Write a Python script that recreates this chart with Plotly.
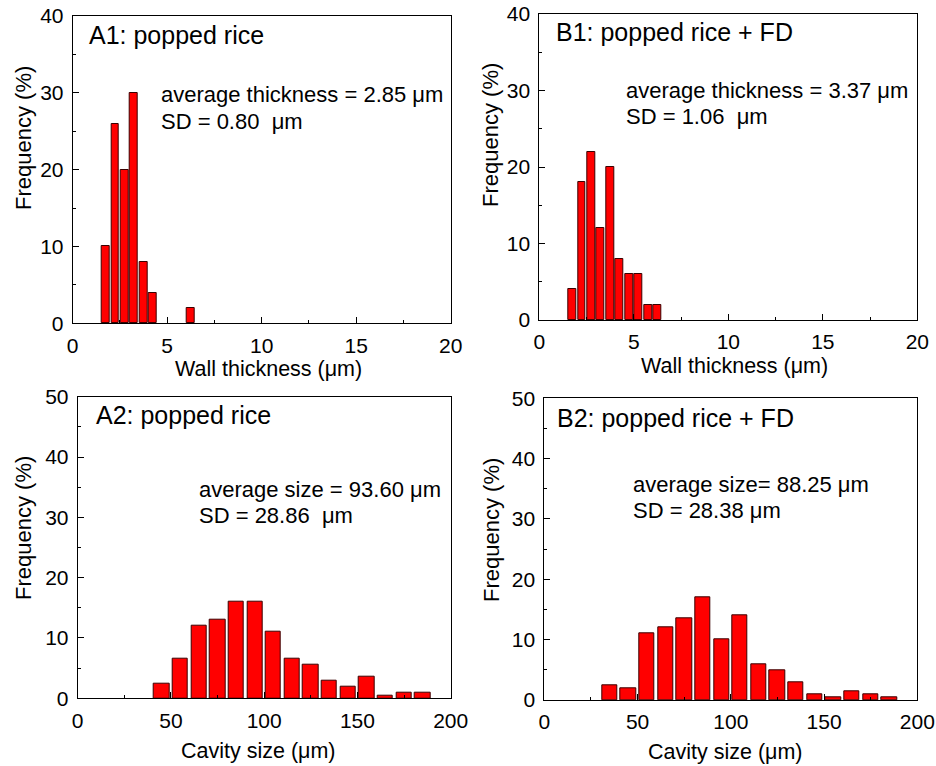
import plotly.graph_objects as go

# ---------------- data ----------------
A1_bins = [1.75, 2.25, 2.75, 3.25, 3.75, 4.25, 6.25]
A1_freq = [10, 26, 20, 30, 8, 4, 2]

B1_bins = [1.75, 2.25, 2.75, 3.25, 3.75, 4.25, 4.75, 5.25, 5.75, 6.25]
B1_freq = [4, 18, 22, 12, 20, 8, 6, 6, 2, 2]

A2_bins = [45, 55, 65, 75, 85, 95, 105, 115, 125, 135, 145, 155, 165, 175, 185]
A2_freq = [2.5, 6.5, 12, 13, 16, 16, 11, 6.5, 5.5, 3, 2, 3.5, 0.5, 1, 1]

B2_bins = [35, 45, 55, 65, 75, 85, 95, 105, 115, 125, 135, 145, 155, 165, 175, 185]
B2_freq = [2.5, 2, 11, 12, 13.5, 17, 10, 14, 6, 5, 3, 1, 0.5, 1.5, 1, 0.5]

panel_titles = ["A1: popped rice", "B1: popped rice + FD", "A2: popped rice", "B2: popped rice + FD"]
stat_line1 = ["average thickness = 2.85 μm", "average thickness = 3.37 μm",
              "average size = 93.60 μm", "average size= 88.25 μm"]
stat_line2 = ["SD = 0.80  μm", "SD = 1.06  μm", "SD = 28.86  μm", "SD = 28.38 μm"]
x_titles = ["Wall thickness (μm)", "Wall thickness (μm)", "Cavity size (μm)", "Cavity size (μm)"]
y_title = "Frequency (%)"

# ---------------- layout geometry ----------------
W, H = 936, 766
FONT = "Liberation Sans, Arial, sans-serif"

def px(x):
    return x / W

def py(y):
    return 1 - y / H

panels = [
    dict(bins=A1_bins, freq=A1_freq, width=0.42, xr=[0, 20], xd=5, xm=2.5, yr=[0, 40],
         dom_x=[72.7, 450.7], dom_y=[323.3, 16.0]),
    dict(bins=B1_bins, freq=B1_freq, width=0.42, xr=[0, 20], xd=5, xm=2.5, yr=[0, 40],
         dom_x=[539.3, 917.3], dom_y=[320.0, 14.0]),
    dict(bins=A2_bins, freq=A2_freq, width=8.2, xr=[0, 200], xd=50, xm=25, yr=[0, 50],
         dom_x=[77.7, 450.7], dom_y=[698.3, 396.7]),
    dict(bins=B2_bins, freq=B2_freq, width=8.2, xr=[0, 200], xd=50, xm=25, yr=[0, 50],
         dom_x=[544.3, 917.3], dom_y=[700.0, 398.3]),
]

# annotation positions (pixels)
title_pos = [(87, 35), (554, 32), (94, 415), (555, 418)]
stat_pos = [(159, 94.7, 121.3), (624, 91, 116.7), (196.7, 489, 515), (630.7, 484, 510)]
xtitle_pos = [(268.3, 369), (734, 366), (258.3, 751), (725.8, 752)]
ytitle_pos = [(23, 138), (491, 135), (23, 528), (491, 530)]

fig = go.Figure()
layout = dict(
    width=W, height=H,
    margin=dict(l=0, r=0, t=0, b=0),
    paper_bgcolor="white", plot_bgcolor="white",
    showlegend=False,
    font=dict(family=FONT, color="black"),
    bargap=0,
)

annotations = []
for i, p in enumerate(panels):
    xa = "x" if i == 0 else f"x{i+1}"
    ya = "y" if i == 0 else f"y{i+1}"
    fig.add_trace(go.Bar(
        x=p["bins"], y=p["freq"], width=p["width"],
        marker=dict(color="#ff0000", line=dict(color="#3a0000", width=1)),
        xaxis=xa, yaxis=ya,
    ))
    axis_common = dict(
        showline=True, linecolor="black", linewidth=1, mirror=True,
        showgrid=False, zeroline=False,
        ticks="inside", ticklen=6, tickcolor="black", tickwidth=1,
        tickfont=dict(family=FONT, size=21, color="black"),
        automargin=False, fixedrange=True,
    )
    xkey = "xaxis" if i == 0 else f"xaxis{i+1}"
    ykey = "yaxis" if i == 0 else f"yaxis{i+1}"
    layout[xkey] = dict(axis_common, range=p["xr"], dtick=p["xd"], tick0=0,
                        domain=[px(p["dom_x"][0]), px(p["dom_x"][1])],
                        anchor=ya, ticklabelstandoff=3,
                        minor=dict(ticks="inside", ticklen=3, dtick=p["xm"], tick0=0,
                                   tickcolor="black", tickwidth=1))
    layout[ykey] = dict(axis_common, range=p["yr"], dtick=10, tick0=0,
                        domain=[py(p["dom_y"][0]), py(p["dom_y"][1])],
                        anchor=xa, ticklabelstandoff=4,
                        minor=dict(ticks="inside", ticklen=3, dtick=5, tick0=0,
                                   tickcolor="black", tickwidth=1))

    tx, ty = title_pos[i]
    annotations.append(dict(text=panel_titles[i], x=px(tx), y=py(ty), xref="paper", yref="paper",
                            xanchor="left", yanchor="middle", showarrow=False,
                            font=dict(family=FONT, size=25, color="black")))
    sx, s1, s2 = stat_pos[i]
    annotations.append(dict(text=stat_line1[i], x=px(sx), y=py(s1), xref="paper", yref="paper",
                            xanchor="left", yanchor="middle", showarrow=False,
                            font=dict(family=FONT, size=22, color="black")))
    annotations.append(dict(text=stat_line2[i], x=px(sx), y=py(s2), xref="paper", yref="paper",
                            xanchor="left", yanchor="middle", showarrow=False,
                            font=dict(family=FONT, size=22, color="black")))
    xx, xy = xtitle_pos[i]
    annotations.append(dict(text=x_titles[i], x=px(xx), y=py(xy), xref="paper", yref="paper",
                            xanchor="center", yanchor="middle", showarrow=False,
                            font=dict(family=FONT, size=21.5, color="black")))
    yx, yy = ytitle_pos[i]
    annotations.append(dict(text=y_title, x=px(yx), y=py(yy), xref="paper", yref="paper",
                            xanchor="center", yanchor="middle", showarrow=False, textangle=-90,
                            font=dict(family=FONT, size=22, color="black")))

layout["annotations"] = annotations
fig.update_layout(**layout)
fig.write_html("out.html")
